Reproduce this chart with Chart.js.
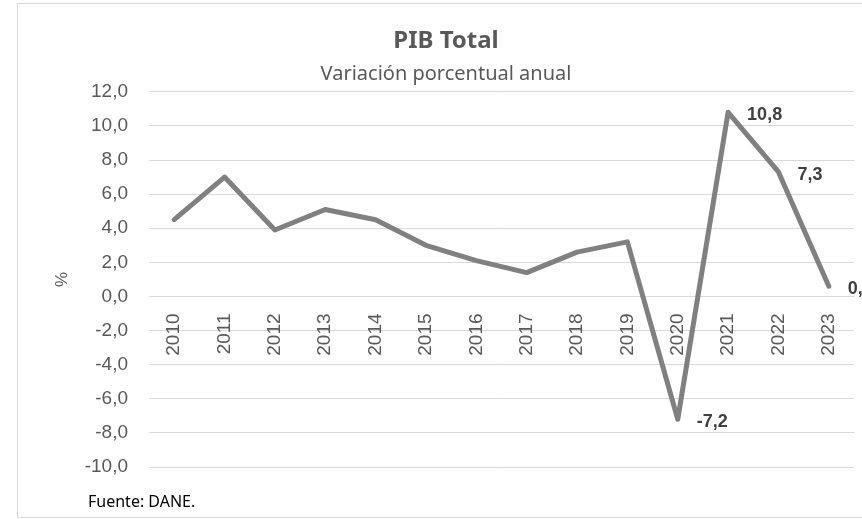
<!DOCTYPE html>
<html lang="es">
<head>
<meta charset="utf-8">
<title>PIB Total</title>
<script src="https://cdn.jsdelivr.net/npm/chart.js@4.4.1/dist/chart.umd.min.js"></script>
<style>
  html, body { margin: 0; padding: 0; background: #fff; overflow: hidden; }
  #marco {
    position: absolute; left: 17px; top: 3px;
    width: 856px; height: 513px;
    border: 1px solid #d9d9d9;
  }
</style>
</head>
<body>
<div id="marco"><canvas id="pibChart" width="856" height="513"></canvas></div>
<script>
// Datos: variación porcentual anual del PIB (DANE)
const anios = ['2010','2011','2012','2013','2014','2015','2016','2017','2018','2019','2020','2021','2022','2023'];
const variacion = [4.5, 7.0, 3.9, 5.1, 4.5, 3.0, 2.1, 1.4, 2.6, 3.2, -7.2, 10.8, 7.3, 0.6];
// años que llevan etiqueta de dato
const aniosEtiquetados = ['2020','2021','2022','2023'];
const ejeMin = -10, ejeMax = 12, ejePaso = 2;

const gris = '#595959';
const coma = v => Number(v).toFixed(1).replace('.', ',');

// Etiquetas de datos a la derecha del punto
const etiquetasDatos = {
  id: 'etiquetasDatos',
  afterDatasetsDraw(chart) {
    const ctx = chart.ctx;
    const meta = chart.getDatasetMeta(0);
    ctx.save();
    ctx.font = 'bold 18px "Liberation Sans", Arial, sans-serif';
    ctx.fillStyle = '#404040';
    ctx.textAlign = 'left';
    ctx.textBaseline = 'middle';
    anios.forEach((a, i) => {
      if (!aniosEtiquetados.includes(a)) return;
      const p = meta.data[i];
      ctx.fillText(coma(variacion[i]), p.x + 19, p.y + 3);
    });
    ctx.restore();
  }
};

// Nota de fuente abajo a la izquierda
const fuente = {
  id: 'fuente',
  afterDraw(chart) {
    const ctx = chart.ctx;
    ctx.save();
    ctx.font = '16px "Noto Sans", sans-serif';
    ctx.fillStyle = '#000';
    ctx.textAlign = 'left';
    ctx.textBaseline = 'middle';
    ctx.fillText('Fuente: DANE.', 70, 498);
    ctx.restore();
  }
};

new Chart(document.getElementById('pibChart'), {
  type: 'line',
  data: {
    labels: anios,
    datasets: [{
      label: 'PIB Total',
      data: variacion,
      borderColor: '#808080',
      borderWidth: 5,
      borderJoinStyle: 'round',
      borderCapStyle: 'round',
      pointRadius: 0,
      tension: 0,
      fill: false
    }]
  },
  options: {
    responsive: false,
    animation: false,
    layout: { padding: { left: 20, right: 20, top: 0, bottom: 50 } },
    plugins: {
      legend: { display: false },
      tooltip: { enabled: false },
      title: {
        display: true,
        text: 'PIB Total',
        color: gris,
        font: { family: '"Noto Sans", sans-serif', size: 24, weight: 'bold' },
        padding: { top: 23, bottom: 0 }
      },
      subtitle: {
        display: true,
        text: 'Variación porcentual anual',
        color: gris,
        font: { family: '"Noto Sans", sans-serif', size: 20 },
        padding: { top: 6, bottom: 6 }
      }
    },
    scales: {
      x: {
        position: { y: 0 },
        offset: true,
        grid: { display: false },
        border: { display: false },
        ticks: {
          color: gris,
          font: { family: '"Liberation Sans", Arial, sans-serif', size: 19 },
          minRotation: 90,
          maxRotation: 90,
          padding: 9
        }
      },
      y: {
        min: ejeMin,
        max: ejeMax,
        grid: { color: '#d9d9d9', lineWidth: 1, drawTicks: false },
        border: { display: false },
        ticks: {
          stepSize: ejePaso,
          color: gris,
          padding: 21,
          font: { family: '"Liberation Sans", Arial, sans-serif', size: 19 },
          callback: v => coma(v)
        },
        title: {
          display: true,
          text: '%',
          color: gris,
          font: { family: '"Liberation Sans", Arial, sans-serif', size: 17 },
          padding: { top: 14, bottom: 0 }
        },
        afterFit(scale) { scale.width = 111; }
      }
    }
  },
  plugins: [etiquetasDatos, fuente]
});
</script>
</body>
</html>
